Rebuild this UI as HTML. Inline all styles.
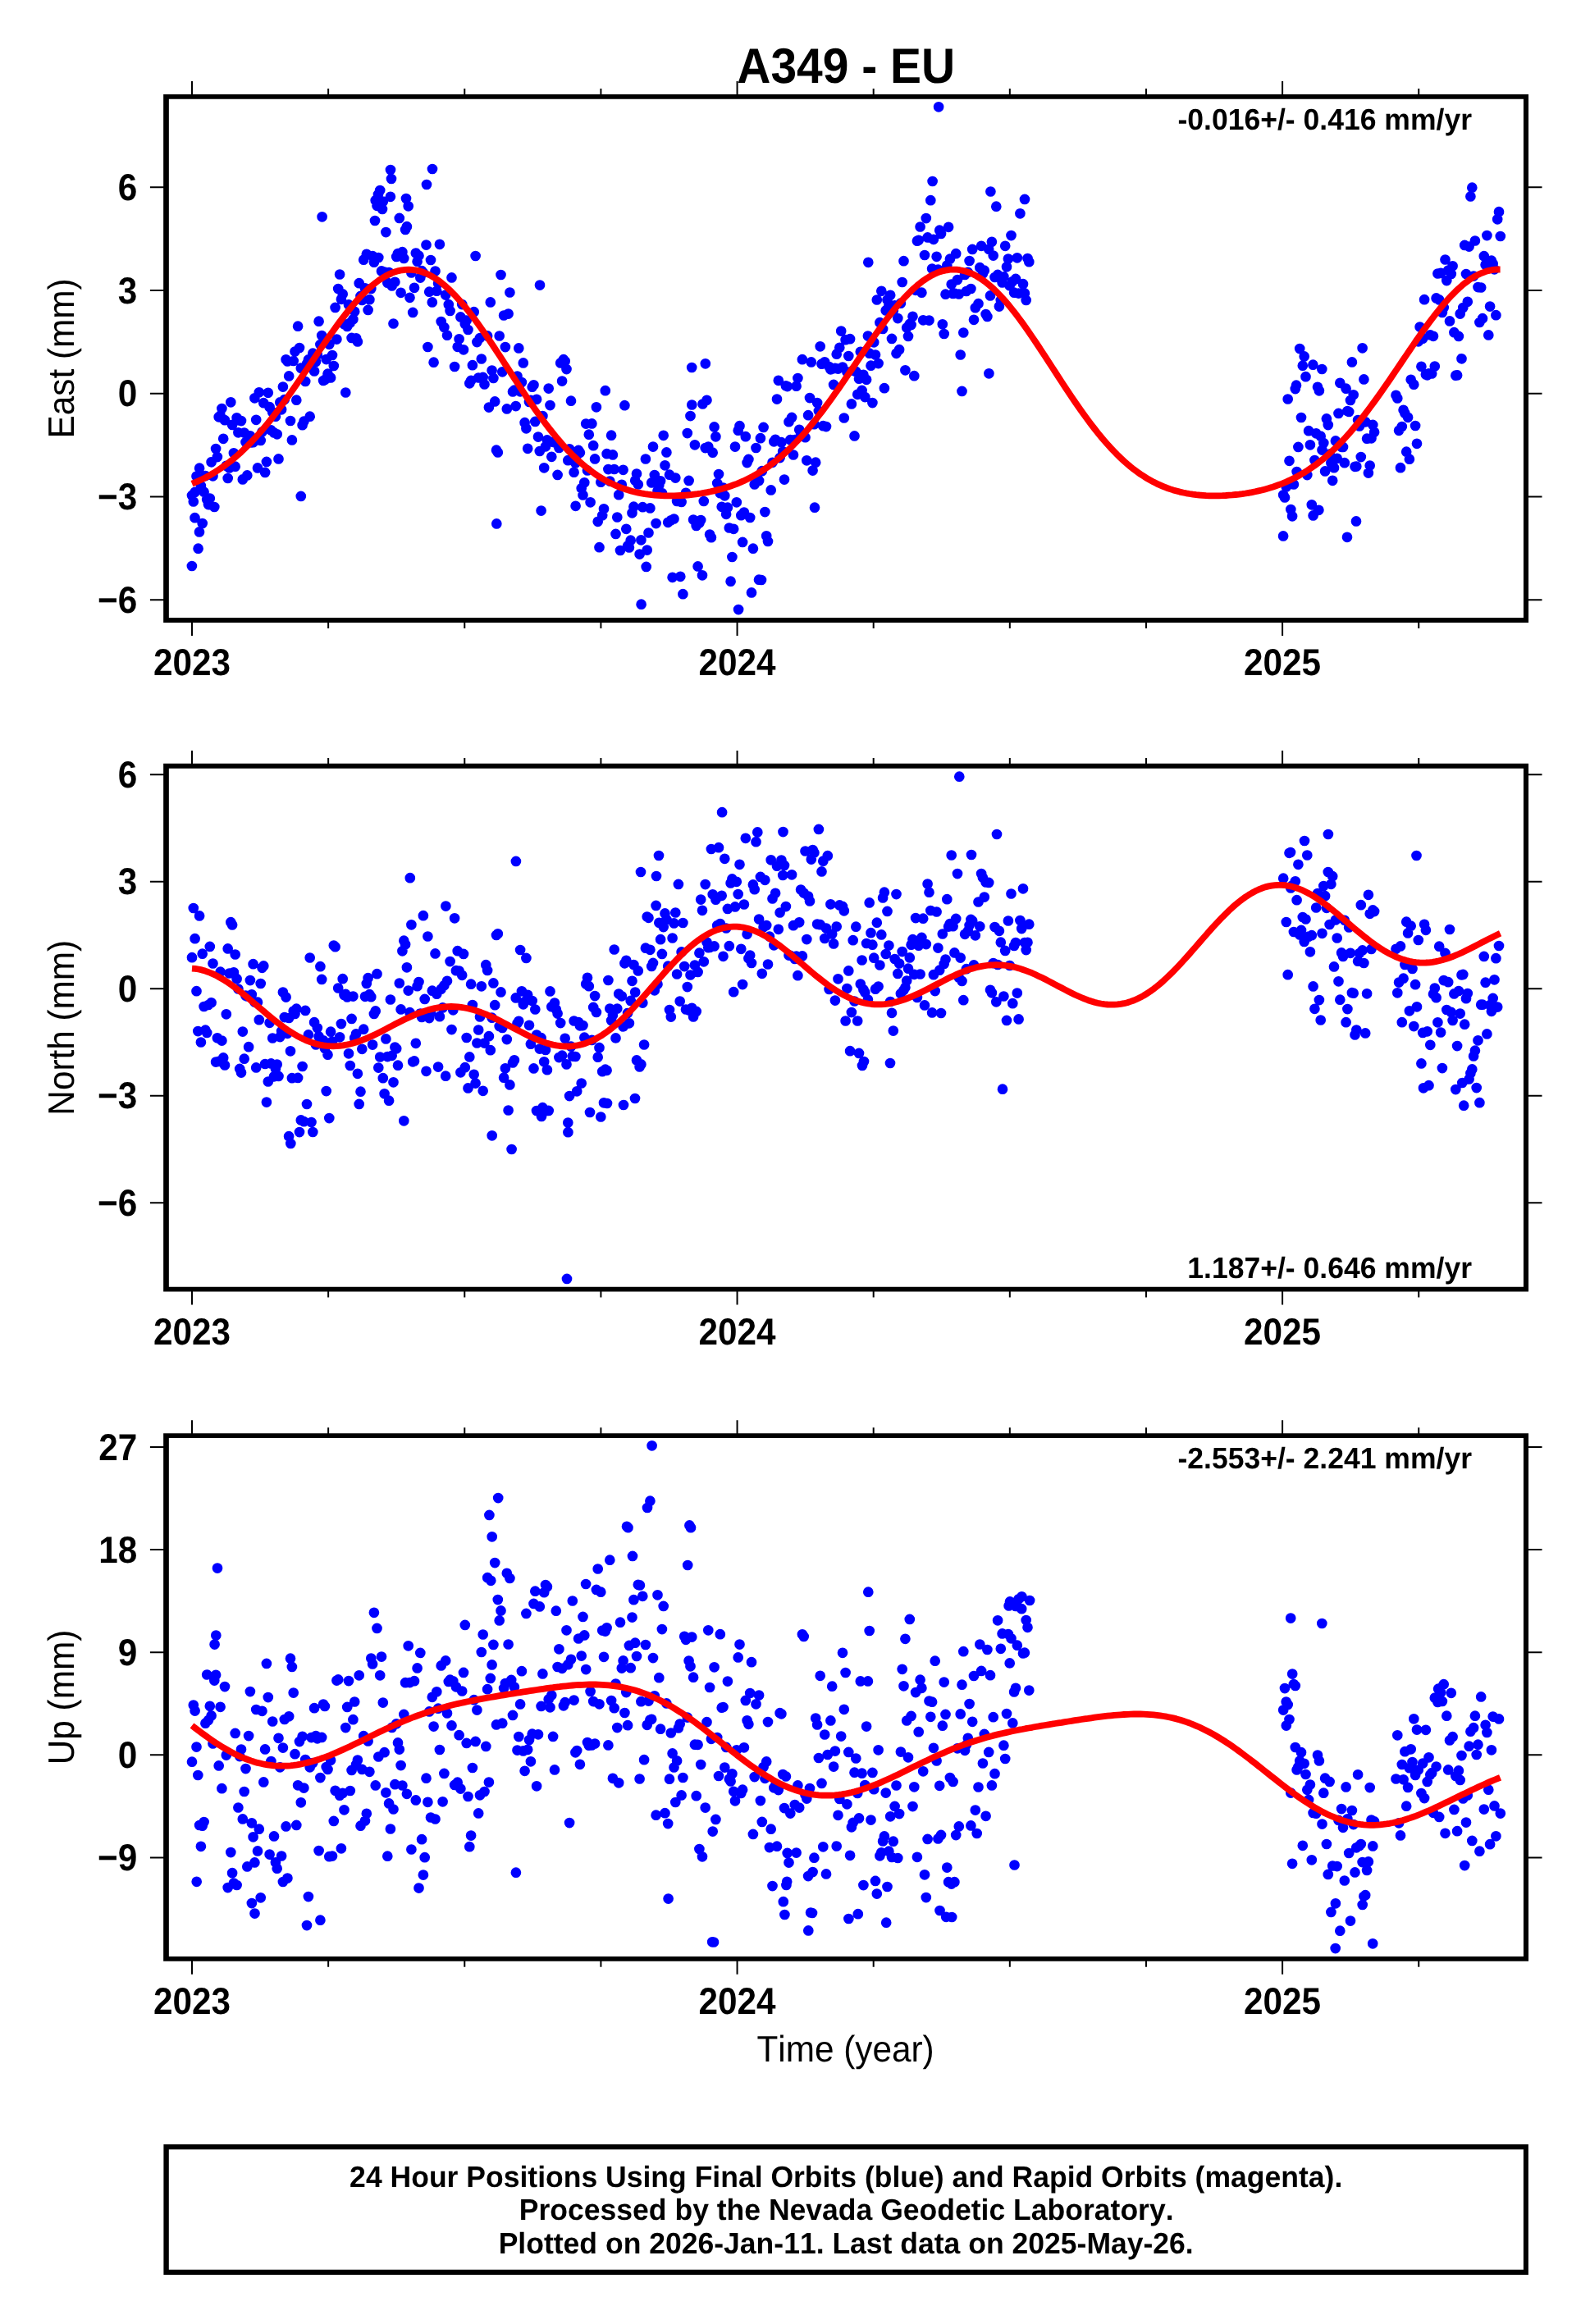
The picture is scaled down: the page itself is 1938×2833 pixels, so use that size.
<!DOCTYPE html>
<html><head><meta charset="utf-8"><title>A349 - EU</title>
<style>
html,body{margin:0;padding:0;background:#fff;}
body{width:1938px;height:2833px;overflow:hidden;}
svg{display:block;}
text{font-family:"Liberation Sans",sans-serif;fill:#000;font-kerning:none;font-variant-ligatures:none;text-rendering:geometricPrecision;}
svg{will-change:transform;}
.b{font-weight:bold;}
.an{font-size:42.3px;font-weight:bold;}
.lb{font-size:42.3px;}
.rt{font-size:35.54px;font-weight:bold;}
.ft{font-size:35.54px;font-weight:bold;}
.d{fill:none;stroke:#0000ff;stroke-width:12.7;stroke-linecap:round;}
.c{fill:none;stroke:#ff0000;stroke-width:7.8;stroke-linejoin:round;stroke-linecap:butt;}
.f{fill:none;stroke:#000;stroke-width:6.0;}
.t{stroke:#000;stroke-width:2.0;fill:none;}
</style></head><body>
<svg width="1938" height="2833" viewBox="0 0 1938 2833">
<rect width="1938" height="2833" fill="#fff"/>
<text class="b" transform="translate(1031.2 101.3) scale(1.01 1.07)" text-anchor="middle" font-size="56.4" textLength="263.27">A349 - EU</text>
<g id="p1">
<path class="d" d="M234 603.9h0M235.8 611.5h0M237.6 599.9h0M239.5 580.5h0M241.3 582.9h0M243.1 570.7h0M244.9 592.3h0M246.7 638.1h0M248.6 599.7h0M250.4 580.1h0M252.2 609h0M254 615.1h0M255.8 607.6h0M257.6 563.3h0M259.5 580.3h0M261.3 618h0M263.1 547h0M264.9 557.1h0M266.7 508.3h0M268.6 506.5h0M270.4 498.1h0M272.2 534.8h0M274 512.2h0M275.8 567.8h0M277.7 583h0M279.5 570.4h0M281.3 490.3h0M283.1 517.9h0M284.9 552.3h0M286.7 568.7h0M288.6 509.3h0M290.4 527.3h0M292.2 512.6h0M294 513.1h0M295.8 584.4h0M297.7 527.5h0M299.5 539.1h0M301.3 579.4h0M304.9 531.3h0M306.8 539.5h0M308.6 539.2h0M310.4 485.3h0M312.2 511.8h0M314 570.4h0M315.8 478.3h0M317.7 537h0M319.5 526.5h0M321.3 491.2h0M323.1 575.9h0M324.9 562.9h0M326.8 478.8h0M328.6 496.2h0M330.4 524.4h0M332.2 502.4h0M334 527.4h0M335.9 507.7h0M337.7 529.3h0M339.5 559.4h0M341.3 490.4h0M343.1 499.3h0M344.9 471.6h0M346.8 487h0M348.6 438.3h0M350.4 440.5h0M352.2 458.4h0M354 513h0M355.9 536.4h0M357.7 440h0M359.5 428.6h0M361.3 487.7h0M363.1 397.7h0M365 424h0M366.8 448.7h0M368.6 518.2h0M370.4 513.7h0M372.2 465h0M374 443.5h0M375.9 438.4h0M377.7 507.7h0M379.5 447.9h0M381.3 430.7h0M383.1 452.4h0M385 441.1h0M386.8 432.4h0M388.6 391.7h0M390.4 420.1h0M392.2 409.1h0M394.1 464h0M395.9 462.9h0M397.7 438.1h0M399.5 455.7h0M401.3 419.8h0M403.1 460.4h0M405 433h0M406.8 446h0M408.6 374.9h0M410.4 413.6h0M412.2 352h0M414.1 334.5h0M415.9 364.8h0M417.7 358.4h0M419.5 395.2h0M421.3 478.5h0M423.2 398h0M425 371.4h0M426.8 393.6h0M428.6 411.9h0M430.4 389.2h0M432.2 379.8h0M434.1 412.3h0M435.9 416.4h0M437.7 345.2h0M439.5 360.9h0M441.3 365.9h0M443.2 316.7h0M445 351.4h0M446.8 309.8h0M448.6 377.9h0M450.4 365.2h0M452.3 351.9h0M454.1 312h0M455.9 319.7h0M457.7 244.2h0M459.5 250.8h0M461.3 314h0M463.2 232.1h0M465 330.4h0M466.8 245.7h0M468.6 331.5h0M470.4 283.1h0M472.3 344.7h0M474.1 332.1h0M475.9 239.8h0M477.7 348.5h0M479.5 394.5h0M481.4 343.8h0M483.2 312.9h0M485 309.1h0M486.8 265.9h0M488.6 356.8h0M490.4 307.2h0M492.3 315h0M494.1 279.9h0M495.9 276.2h0M497.7 251.3h0M499.5 362.8h0M501.4 332.4h0M503.2 380.9h0M505 350.8h0M506.8 308.5h0M508.6 318.7h0M510.5 311.7h0M512.3 338.6h0M514.1 330.2h0M515.9 332.5h0M519.5 298.6h0M521.4 423h0M523.2 355.7h0M525 317h0M526.8 368.4h0M528.6 441.7h0M530.5 330.5h0M532.3 354.7h0M534.1 345.4h0M535.9 297.8h0M537.7 392h0M541.4 399.1h0M543.2 359.6h0M545 408.7h0M546.8 371.2h0M548.6 379h0M550.5 338.4h0M554.1 447h0M557.7 422.8h0M559.6 413.3h0M561.4 386.4h0M563.2 371.1h0M565 426.3h0M566.8 394.9h0M568.7 390.5h0M570.5 402h0M572.3 467.3h0M574.1 463.9h0M575.9 445.2h0M577.7 380.2h0M579.6 312h0M581.4 417.1h0M583.2 460.5h0M585 412h0M586.8 437.5h0M588.7 459.9h0M590.5 468.5h0M594.1 409.4h0M595.9 496.6h0M597.8 368.4h0M599.6 451.5h0M601.4 460.9h0M603.2 489.4h0M605 548.7h0M606.8 551.5h0M608.7 409.5h0M610.5 335h0M612.3 453.3h0M614.1 384.5h0M615.9 423.1h0M617.8 498.4h0M619.6 382.6h0M621.4 356.5h0M625 477.4h0M626.9 475.7h0M628.7 495.1h0M630.5 458.6h0M632.3 424.4h0M634.1 477.3h0M635.9 466.1h0M637.8 442.4h0M639.6 515.2h0M641.4 522.3h0M643.2 546.8h0M645 490h0M646.9 487.8h0M648.7 471.7h0M650.5 469.3h0M652.3 513.9h0M654.1 486.8h0M656 532.6h0M657.8 550h0M659.6 622.6h0M661.4 507.1h0M663.2 570.3h0M665 544.3h0M666.9 536.4h0M668.7 473.6h0M670.5 494.1h0M672.3 556.8h0M674.1 538.8h0M676 539.3h0M679.6 578.9h0M681.4 546h0M683.2 442.4h0M685.1 464.6h0M686.9 438.2h0M688.7 440.3h0M690.5 450.1h0M692.3 561.2h0M694.1 547.3h0M696 488.7h0M699.6 575.7h0M701.4 564.6h0M703.2 554.9h0M705.1 548.9h0M706.9 551.8h0M708.7 595.2h0M710.5 603.5h0M712.3 588.3h0M714.2 516.6h0M716 573.5h0M717.8 529.7h0M719.6 612.3h0M721.4 516.4h0M723.2 543.2h0M725.1 559.4h0M726.9 496.3h0M728.7 635.8h0M730.5 667.2h0M732.3 587.7h0M734.2 628.3h0M736 620.3h0M737.8 476.2h0M739.6 553.2h0M741.4 572.1h0M743.3 586.6h0M745.1 530.7h0M746.9 554.4h0M748.7 572h0M750.5 650.9h0M752.3 630.5h0M754.2 603.2h0M756 671h0M757.8 590.8h0M759.6 572.8h0M761.4 494.2h0M763.3 644.8h0M765.1 665.6h0M766.9 667.4h0M768.7 658.7h0M770.5 625.3h0M772.4 617.7h0M774.2 585.8h0M776 577.6h0M777.8 590.5h0M779.6 675.6h0M781.4 658.3h0M783.3 618.2h0M786.9 559.5h0M788.7 670.6h0M790.5 649.5h0M792.4 619.4h0M794.2 588.4h0M796 544.6h0M797.8 579.1h0M799.6 638.1h0M801.5 598.4h0M803.3 591.4h0M805.1 586.3h0M806.9 601h0M808.7 530.8h0M810.5 567.3h0M812.4 551.4h0M814.2 636.8h0M816 578.7h0M817.8 634.3h0M819.6 703.8h0M821.5 632.5h0M823.3 582.6h0M825.1 610.9h0M826.9 607.9h0M830.6 611.9h0M832.4 724.2h0M836 600.8h0M837.8 528.1h0M839.6 585.9h0M841.5 507.1h0M843.3 493.5h0M845.1 633.6h0M846.9 542.3h0M848.7 640.9h0M850.6 690.4h0M852.4 637.6h0M854.2 634.1h0M856 701.3h0M857.8 611h0M859.7 546.1h0M861.5 487.8h0M863.3 544.6h0M865.1 651.5h0M866.9 655.2h0M868.7 551.7h0M870.6 520.4h0M872.4 532.3h0M874.2 589h0M876 578.1h0M877.8 601.2h0M879.7 617.8h0M881.5 594.5h0M883.3 604.3h0M885.1 626.8h0M886.9 618.7h0M888.8 643.5h0M890.6 708.7h0M892.4 679h0M894.2 644.8h0M896 544.6h0M897.8 612.3h0M899.7 524.7h0M901.5 519.2h0M903.3 628.2h0M905.1 660.9h0M906.9 624.5h0M908.8 532.2h0M910.6 564.1h0M912.4 559.9h0M914.2 631h0M916 722.4h0M917.9 668.7h0M919.7 590.5h0M921.5 546h0M923.3 583.3h0M925.1 586h0M926.9 534.2h0M928.8 574.2h0M930.6 520.9h0M932.4 624.1h0M934.2 653.3h0M936 659.9h0M939.7 597.4h0M941.5 563.8h0M943.3 538.3h0M945.1 535.8h0M947 486.6h0M948.8 463.8h0M950.6 558.1h0M952.4 539.2h0M954.2 550.3h0M956 584.6h0M957.9 470.3h0M959.7 471.1h0M961.5 514.2h0M963.3 536.2h0M965.1 508.9h0M967 554.5h0M968.8 536h0M970.6 470.7h0M972.4 461h0M974.2 523.8h0M976.1 529.2h0M977.9 438.2h0M979.7 531.3h0M981.5 533.2h0M983.3 561.3h0M985.1 506.2h0M987 485.1h0M988.8 441.4h0M990.6 573.6h0M992.4 517.2h0M994.2 563.7h0M996.1 491h0M997.9 501h0M999.7 422.3h0M1001.5 443.7h0M1003.3 519.2h0M1005.2 441.3h0M1007 520.1h0M1010.6 447h0M1012.4 450.3h0M1014.2 449.7h0M1016.1 468.9h0M1017.9 448.8h0M1019.7 431.7h0M1021.5 449.6h0M1023.3 423.8h0M1025.2 403.6h0M1027 447.6h0M1028.8 509.5h0M1030.6 414.2h0M1032.4 453.3h0M1034.3 434h0M1036.1 413.2h0M1037.9 492.4h0M1039.7 451.7h0M1041.5 531.4h0M1043.3 452.9h0M1045.2 480.8h0M1047 461.7h0M1048.8 428.8h0M1050.6 475.9h0M1052.4 456.8h0M1054.3 484.1h0M1056.1 462.8h0M1057.9 409.6h0M1059.7 430.7h0M1061.5 445.7h0M1063.4 491.1h0M1065.2 417.3h0M1067 432.6h0M1068.8 365.5h0M1070.6 443.1h0M1072.4 393.2h0M1074.3 354.8h0M1076.1 401h0M1077.9 473.2h0M1079.7 378.4h0M1081.5 365.5h0M1083.4 373.1h0M1085.2 359.8h0M1087 412.9h0M1088.8 378.9h0M1090.6 372.3h0M1092.5 430.8h0M1094.3 388.1h0M1096.1 426.2h0M1097.9 369.7h0M1099.7 344h0M1101.5 318.2h0M1103.4 451.3h0M1105.2 399.5h0M1107 409.9h0M1108.8 394.9h0M1110.6 396.1h0M1112.5 385.8h0M1114.3 458.2h0M1116.1 353.8h0M1117.9 293.7h0M1119.7 292.8h0M1121.6 276.5h0M1123.4 356.7h0M1125.2 390.3h0M1127 311h0M1128.8 266.1h0M1130.6 289.4h0M1132.5 390.6h0M1134.3 244.2h0M1136.1 327.5h0M1137.9 291.8h0M1141.6 312.8h0M1143.4 328.7h0M1145.2 280.7h0M1147 284.9h0M1148.8 395.3h0M1150.7 407h0M1152.5 358.7h0M1154.3 323.6h0M1156.1 276.8h0M1157.9 315.7h0M1159.7 346.6h0M1161.6 357.9h0M1163.4 357.6h0M1165.2 309.2h0M1167 341.1h0M1168.8 358.5h0M1170.7 432.5h0M1172.5 476.9h0M1174.3 405.5h0M1176.1 334.9h0M1177.9 355h0M1179.8 331.9h0M1181.6 318h0M1183.4 352h0M1185.2 303.9h0M1187 389.8h0M1188.8 375.2h0M1192.5 370.2h0M1194.3 326.2h0M1196.1 299.8h0M1197.9 333.5h0M1199.8 329.7h0M1201.6 383h0M1203.4 385.9h0M1205.2 303.8h0M1207 360.4h0M1208.9 294.8h0M1210.7 311.6h0M1212.5 338h0M1214.3 251.7h0M1216.1 334.9h0M1217.9 373.6h0M1219.8 365.9h0M1221.6 344.5h0M1223.4 337.3h0M1225.2 299.8h0M1227 325.3h0M1228.9 315.5h0M1230.7 348.2h0M1232.5 287.1h0M1234.3 343h0M1236.1 356.7h0M1238 339.9h0M1239.8 314.3h0M1241.6 357.6h0M1243.4 260.3h0M1247 346.2h0M1248.9 357.4h0M1250.7 365.9h0M1252.5 315.1h0M1254.3 319.2h0M1564.2 603.3h0M1566 606.4h0M1567.8 593.5h0M1569.7 486.5h0M1571.5 561.8h0M1573.3 621h0M1575.1 629.3h0M1576.9 590.4h0M1578.8 474.1h0M1580.6 575h0M1582.4 544.9h0M1584.2 425.1h0M1586 509h0M1587.8 445.7h0M1589.7 434.4h0M1591.5 459.2h0M1593.3 579.1h0M1595.1 525.2h0M1596.9 542.3h0M1598.8 615.3h0M1600.6 628.4h0M1602.4 561h0M1604.2 528.3h0M1606 471.8h0M1607.9 476.3h0M1609.7 531.7h0M1611.5 548.6h0M1613.3 540.1h0M1615.1 574.4h0M1616.9 510.4h0M1618.8 518.1h0M1620.6 553.6h0M1622.4 564.3h0M1624.2 585.8h0M1626 570.2h0M1627.9 537.4h0M1629.7 558.8h0M1631.5 503.9h0M1633.3 466.8h0M1635.1 544.8h0M1637 544.9h0M1638.8 564.2h0M1640.6 473.7h0M1642.4 501h0M1644.2 501.9h0M1646 488h0M1647.9 441.4h0M1649.7 481.3h0M1651.5 568.8h0M1653.3 568.6h0M1655.1 512h0M1657 519.4h0M1658.8 557.1h0M1660.6 424.3h0M1662.4 462.4h0M1664.2 514.3h0M1666.1 534.7h0M1667.9 576.6h0M1669.7 567.6h0M1671.5 534.3h0M1673.3 517.9h0M1675.1 526.8h0M1701.5 481.8h0M1703.3 485.4h0M1705.1 524.8h0M1707 570.2h0M1708.8 520.1h0M1710.6 499.8h0M1712.4 503.8h0M1714.2 550.7h0M1716.1 508.8h0M1717.9 559.7h0M1719.7 462.8h0M1723.3 468.7h0M1725.1 519h0M1727 540.8h0M1728.8 416.3h0M1730.6 398.5h0M1732.4 446.8h0M1734.2 412.7h0M1736.1 365.2h0M1737.9 456.6h0M1739.7 457.3h0M1741.5 455.4h0M1743.3 408.3h0M1745.2 455.4h0M1747 409.8h0M1748.8 446.5h0M1750.6 363.4h0M1752.4 333.5h0M1754.2 365.4h0M1756.1 332.9h0M1757.9 381h0M1759.7 374.9h0M1761.5 316.5h0M1763.3 342.1h0M1765.2 329.6h0M1767 391.4h0M1768.8 333.9h0M1770.6 324.3h0M1772.4 405.2h0M1774.3 457.7h0M1776.1 457.4h0M1777.9 409.9h0M1779.7 382.6h0M1781.5 437.3h0M1783.3 375.1h0M1785.2 298.9h0M1787 334.1h0M1788.8 367.8h0M1790.6 300.6h0M1792.4 239.4h0M1794.3 228.7h0M1796.1 336.6h0M1797.9 293.5h0M1801.5 350.1h0M1803.4 392.9h0M1805.2 350.5h0M1807 388.2h0M1808.8 312.2h0M1810.6 322.7h0M1812.4 287.1h0M1814.3 408.4h0M1816.1 373.6h0M1817.9 317.7h0M1819.7 321.4h0M1821.5 328.3h0M1823.4 384.2h0M1825.2 267.3h0M1827 258.2h0M1828.8 288h0M1144.1 130.3h0M392.6 264.3h0M366.8 604.9h0M233.9 690h0M241.6 668.7h0M243 648.4h0M237.5 631.2h0M605.3 638.4h0M781.6 736.7h0M900.1 743.1h0M925 706.7h0M928 707h0M829.3 702.8h0M787.7 690.9h0M658 347.6h0M843.2 448h0M859.8 443.3h0M856.5 492.5h0M993 618.7h0M701.6 616.8h0M1136.6 221h0M1207.4 233.5h0M1249 242.9h0M1058.3 319.8h0M1205.4 455.3h0M1564.1 653.4h0M1642 654.8h0M1653 635.4h0M1607.4 621.8h0M1580 469.7h0M1600.4 444.7h0M1611.3 450h0M476 207h0M477 218h0M527 206h0M520 225h0M461 237h0M495 242h0M466 255h0M457 269h0"/>
<polyline class="c" points="234,589.7 238,588 242,586.3 246,584.4 250,582.4 254,580.3 258,578 262,575.6 266,573 270,570.3 274,567.5 278,564.5 282,561.4 286,558.1 290,554.6 294,551 298,547.2 302,543.3 306,539.2 310,534.9 314,530.5 318,526 322,521.3 326,516.5 330,511.5 334,506.4 338,501.2 342,495.8 346,490.4 350,484.8 354,479.2 358,473.5 362,467.7 366,461.9 370,456 374,450.1 378,444.2 382,438.3 386,432.3 390,426.4 394,420.6 398,414.8 402,409.1 406,403.4 410,397.9 414,392.4 418,387.1 422,382 426,377 430,372.2 434,367.6 438,363.1 442,358.9 446,354.9 450,351.2 454,347.7 458,344.5 462,341.5 466,338.9 470,336.5 474,334.4 478,332.7 482,331.2 486,330.1 490,329.3 494,328.8 498,328.6 502,328.8 506,329.3 510,330.1 514,331.3 518,332.7 522,334.5 526,336.6 530,339 534,341.7 538,344.7 542,348 546,351.6 550,355.4 554,359.4 558,363.8 562,368.3 566,373 570,378 574,383.1 578,388.4 582,393.9 586,399.5 590,405.2 594,411.1 598,417 602,423 606,429.1 610,435.2 614,441.4 618,447.5 622,453.7 626,459.8 630,466 634,472.1 638,478.1 642,484.1 646,490 650,495.7 654,501.4 658,507 662,512.5 666,517.8 670,523 674,528 678,532.9 682,537.6 686,542.2 690,546.6 694,550.8 698,554.9 702,558.7 706,562.4 710,565.9 714,569.3 718,572.4 722,575.4 726,578.2 730,580.9 734,583.3 738,585.6 742,587.8 746,589.8 750,591.6 754,593.3 758,594.8 762,596.2 766,597.5 770,598.7 774,599.7 778,600.6 782,601.4 786,602.1 790,602.7 794,603.2 798,603.6 802,603.9 806,604.2 810,604.3 814,604.4 818,604.4 822,604.4 826,604.2 830,604 834,603.8 838,603.5 842,603.1 846,602.6 850,602.1 854,601.5 858,600.8 862,600.1 866,599.3 870,598.4 874,597.4 878,596.4 882,595.3 886,594 890,592.7 894,591.3 898,589.8 902,588.1 906,586.4 910,584.5 914,582.5 918,580.4 922,578.1 926,575.7 930,573.2 934,570.5 938,567.7 942,564.7 946,561.5 950,558.3 954,554.8 958,551.2 962,547.4 966,543.5 970,539.4 974,535.2 978,530.8 982,526.3 986,521.6 990,516.8 994,511.8 998,506.7 1002,501.5 1006,496.2 1010,490.7 1014,485.2 1018,479.6 1022,473.9 1026,468.1 1030,462.3 1034,456.4 1038,450.5 1042,444.6 1046,438.6 1050,432.7 1054,426.8 1058,421 1062,415.2 1066,409.4 1070,403.8 1074,398.2 1078,392.8 1082,387.5 1086,382.3 1090,377.3 1094,372.5 1098,367.8 1102,363.4 1106,359.2 1110,355.2 1114,351.4 1118,347.9 1122,344.7 1126,341.7 1130,339 1134,336.6 1138,334.5 1142,332.7 1146,331.2 1150,330.1 1154,329.3 1158,328.7 1162,328.6 1166,328.7 1170,329.2 1174,330 1178,331.1 1182,332.5 1186,334.3 1190,336.4 1194,338.8 1198,341.5 1202,344.4 1206,347.7 1210,351.2 1214,355 1218,359.1 1222,363.4 1226,367.9 1230,372.6 1234,377.6 1238,382.7 1242,388 1246,393.4 1250,399 1254,404.7 1258,410.6 1262,416.5 1266,422.5 1270,428.6 1274,434.7 1278,440.8 1282,447 1286,453.2 1290,459.3 1294,465.5 1298,471.6 1302,477.6 1306,483.6 1310,489.5 1314,495.3 1318,501 1322,506.5 1326,512 1330,517.3 1334,522.5 1338,527.6 1342,532.5 1346,537.2 1350,541.8 1354,546.2 1358,550.4 1362,554.5 1366,558.4 1370,562.1 1374,565.6 1378,569 1382,572.2 1386,575.1 1390,578 1394,580.6 1398,583.1 1402,585.4 1406,587.6 1410,589.6 1414,591.4 1418,593.1 1422,594.7 1426,596.1 1430,597.4 1434,598.5 1438,599.6 1442,600.5 1446,601.3 1450,602 1454,602.6 1458,603.1 1462,603.5 1466,603.8 1470,604.1 1474,604.3 1478,604.3 1482,604.4 1486,604.3 1490,604.2 1494,604 1498,603.7 1502,603.4 1506,603 1510,602.6 1514,602.1 1518,601.5 1522,600.8 1526,600.1 1530,599.3 1534,598.4 1538,597.5 1542,596.4 1546,595.3 1550,594.1 1554,592.7 1558,591.3 1562,589.8 1566,588.2 1570,586.4 1574,584.6 1578,582.6 1582,580.5 1586,578.2 1590,575.8 1594,573.3 1598,570.6 1602,567.8 1606,564.8 1610,561.7 1614,558.4 1618,555 1622,551.4 1626,547.7 1630,543.8 1634,539.7 1638,535.5 1642,531.1 1646,526.6 1650,521.9 1654,517.1 1658,512.1 1662,507.1 1666,501.8 1670,496.5 1674,491.1 1678,485.6 1682,479.9 1686,474.2 1690,468.5 1694,462.7 1698,456.8 1702,450.9 1706,445 1710,439 1714,433.1 1718,427.2 1722,421.4 1726,415.5 1730,409.8 1734,404.1 1738,398.6 1742,393.1 1746,387.8 1750,382.6 1754,377.6 1758,372.8 1762,368.1 1766,363.7 1770,359.4 1774,355.4 1778,351.6 1782,348.1 1786,344.8 1790,341.8 1794,339.1 1798,336.7 1802,334.6 1806,332.8 1810,331.3 1814,330.1 1818,329.2 1822,328.7 1826,328.5 1828.6,328.5"/>
<path class="t" d="M234 117.9v-18.9M234 756v18.9M400.14 117.9v-9.9M400.14 756v9.9M566.27 117.9v-9.9M566.27 756v9.9M732.41 117.9v-9.9M732.41 756v9.9M898.55 117.9v-18.9M898.55 756v18.9M1064.69 117.9v-9.9M1064.69 756v9.9M1230.82 117.9v-9.9M1230.82 756v9.9M1396.96 117.9v-9.9M1396.96 756v9.9M1563.1 117.9v-18.9M1563.1 756v18.9M1729.24 117.9v-9.9M1729.24 756v9.9M202.4 228.17h-19.5M1860 228.17h19.5M202.4 353.96h-19.5M1860 353.96h19.5M202.4 479.75h-19.5M1860 479.75h19.5M202.4 605.54h-19.5M1860 605.54h19.5M202.4 731.33h-19.5M1860 731.33h19.5"/>
<path fill="#000" fill-rule="evenodd" d="M199.15 114.95H1863.05V758.9H199.15ZM205.85 120.85H1856.95V753.1H205.85Z"/>
<text class="an" transform="translate(167.2 243.87) scale(1 1.08)" text-anchor="end" textLength="23.53">6</text>
<text class="an" transform="translate(167.2 369.66) scale(1 1.08)" text-anchor="end" textLength="23.53">3</text>
<text class="an" transform="translate(167.2 495.45) scale(1 1.08)" text-anchor="end" textLength="23.53">0</text>
<text class="an" transform="translate(167.2 621.24) scale(1 1.08)" text-anchor="end" textLength="48.23">−3</text>
<text class="an" transform="translate(167.2 747.03) scale(1 1.08)" text-anchor="end" textLength="48.23">−6</text>
<text class="an" transform="translate(234 822.9) scale(1 1.08)" text-anchor="middle" textLength="94.11">2023</text>
<text class="an" transform="translate(898.55 822.9) scale(1 1.08)" text-anchor="middle" textLength="94.11">2024</text>
<text class="an" transform="translate(1563.1 822.9) scale(1 1.08)" text-anchor="middle" textLength="94.11">2025</text>
<text class="lb" transform="translate(89.8 436.95) rotate(-90) scale(1 1.06)" text-anchor="middle" textLength="195.03">East (mm)</text>
<text class="rt" transform="translate(1794 157.7) scale(1 1.02)" text-anchor="end" textLength="358.52">-0.016+/- 0.416 mm/yr</text>
</g>
<g id="p2">
<path class="d" d="M234 1167.2h0M235.8 1107h0M237.6 1144.2h0M239.5 1208.2h0M241.3 1257.1h0M243.1 1116.4h0M244.9 1270.5h0M246.7 1162.7h0M248.6 1227h0M250.4 1255.7h0M252.2 1259h0M254 1225h0M255.8 1153.9h0M257.6 1222.3h0M259.5 1174.5h0M263.1 1294.6h0M264.9 1265.3h0M266.7 1293.9h0M268.6 1184.7h0M270.4 1268.6h0M272.2 1289.4h0M274 1298.5h0M275.8 1236.3h0M277.7 1156.4h0M279.5 1186.5h0M281.3 1124.2h0M283.1 1127.4h0M284.9 1185.3h0M286.7 1163.5h0M288.6 1193.2h0M290.4 1205.5h0M292.2 1302.9h0M294 1307.6h0M295.8 1257.6h0M297.7 1290.7h0M299.5 1213.7h0M301.3 1214.4h0M303.1 1276.2h0M304.9 1195.1h0M306.8 1212.3h0M308.6 1175.2h0M310.4 1221.6h0M312.2 1301.4h0M314 1221.7h0M315.8 1243.2h0M317.7 1199h0M319.5 1179.8h0M321.3 1177.4h0M323.1 1297h0M324.9 1343.6h0M326.8 1318.5h0M328.6 1246.8h0M330.4 1296.4h0M332.2 1265.5h0M334 1312.3h0M335.9 1303h0M337.7 1297.5h0M339.5 1311.9h0M341.3 1264.1h0M343.1 1257.1h0M344.9 1209.6h0M346.8 1240.1h0M348.6 1215.6h0M350.4 1259.8h0M352.2 1241h0M354 1281.3h0M355.9 1314.2h0M357.7 1232.6h0M359.5 1235.9h0M361.3 1229.7h0M363.1 1313.9h0M365 1380.1h0M366.8 1365.4h0M368.6 1300h0M370.4 1367.2h0M372.2 1231.9h0M374 1346h0M375.9 1261.4h0M377.7 1167.5h0M379.5 1368h0M381.3 1380h0M383.1 1246.2h0M385 1273.5h0M386.8 1253h0M388.6 1263.4h0M390.4 1178.2h0M392.2 1193.9h0M394.1 1268.3h0M395.9 1277.9h0M397.7 1330.1h0M399.5 1285.7h0M401.3 1363.1h0M403.1 1257.7h0M405 1269.6h0M406.8 1152.6h0M408.6 1154.2h0M412.2 1204.5h0M414.1 1264.3h0M415.9 1248.1h0M417.7 1193.2h0M419.5 1212.9h0M421.3 1211.9h0M423.2 1215.5h0M425 1284.3h0M426.8 1299h0M428.6 1241.9h0M430.4 1214.6h0M432.2 1265.3h0M434.1 1260.3h0M435.9 1308.8h0M437.7 1345.9h0M439.5 1330.7h0M441.3 1278.8h0M443.2 1254.7h0M445 1214.8h0M446.8 1199h0M448.6 1192.2h0M450.4 1212.2h0M452.3 1215.2h0M454.1 1273.6h0M455.9 1236h0M457.7 1232.4h0M459.5 1187.2h0M461.3 1301.6h0M463.2 1288.5h0M466.8 1314.2h0M468.6 1333.3h0M470.4 1266.4h0M472.3 1288.1h0M474.1 1341.7h0M475.9 1218.5h0M477.7 1286.8h0M479.5 1319.3h0M481.4 1276.5h0M483.2 1278.3h0M485 1298.7h0M486.8 1198.5h0M488.6 1230.4h0M490.4 1159.3h0M492.3 1146.7h0M494.1 1151.2h0M495.9 1179.3h0M497.7 1207.6h0M499.5 1234.2h0M501.4 1127.3h0M503.2 1294.3h0M505 1293.4h0M506.8 1271.8h0M508.6 1202.2h0M510.5 1197h0M512.3 1235.5h0M514.1 1240h0M515.9 1116.2h0M517.7 1217.9h0M519.5 1305.8h0M521.4 1141.5h0M523.2 1241.1h0M525 1234.6h0M526.8 1207.7h0M530.5 1162.4h0M532.3 1211.7h0M534.1 1300.6h0M535.9 1239.2h0M537.7 1205.7h0M539.6 1228.4h0M541.4 1201.2h0M543.2 1311.7h0M545 1195.8h0M548.6 1172.1h0M550.5 1255.1h0M552.3 1231.3h0M554.1 1119.3h0M555.9 1183.2h0M557.7 1159.2h0M559.6 1183.6h0M561.4 1307.3h0M563.2 1188.8h0M565 1162.9h0M566.8 1301.2h0M568.7 1265h0M570.5 1326.4h0M572.3 1288.4h0M574.1 1199.7h0M575.9 1225h0M577.7 1309.8h0M579.6 1320.6h0M581.4 1271.5h0M583.2 1255.5h0M585 1239.5h0M586.8 1202.3h0M588.7 1329.8h0M590.5 1271.6h0M592.3 1176.2h0M594.1 1182.9h0M595.9 1263.2h0M597.8 1280.2h0M599.6 1240.7h0M601.4 1198.4h0M603.2 1225.2h0M605 1139.9h0M606.8 1138.3h0M608.7 1251.1h0M610.5 1209.4h0M612.3 1253h0M614.1 1313.7h0M615.9 1302.3h0M617.8 1267.1h0M619.6 1353.5h0M621.4 1322.4h0M625 1295.4h0M626.9 1292.3h0M628.7 1216.4h0M630.5 1247.5h0M632.3 1244.8h0M634.1 1158h0M635.9 1208.3h0M637.8 1224.3h0M639.6 1221.1h0M641.4 1167.9h0M643.2 1212.8h0M645 1249.8h0M646.9 1272.7h0M648.7 1220.1h0M650.5 1302.4h0M652.3 1230.5h0M654.1 1261.6h0M657.8 1278.6h0M659.6 1265.2h0M661.4 1350.2h0M663.2 1294.3h0M665 1280h0M666.9 1304.2h0M668.7 1353.9h0M670.5 1208.4h0M672.3 1227.2h0M674.1 1226.4h0M676 1222.6h0M677.8 1230.5h0M679.6 1235.6h0M681.4 1289.1h0M683.2 1247.1h0M685.1 1286.7h0M688.7 1265.8h0M690.5 1297.4h0M692.3 1368.6h0M694.1 1336.1h0M696 1275.7h0M697.8 1287.6h0M699.6 1244.5h0M701.4 1288h0M703.2 1330.3h0M705.1 1246.1h0M706.9 1250.3h0M708.7 1320.5h0M710.5 1250.1h0M712.3 1264.7h0M714.2 1199.6h0M716 1191.8h0M717.8 1202.2h0M721.4 1267.9h0M723.2 1227.9h0M725.1 1214.1h0M726.9 1234h0M728.7 1288.7h0M730.5 1277.2h0M732.3 1361.5h0M734.2 1306.2h0M736 1344.3h0M737.8 1303.7h0M739.6 1304.8h0M741.4 1195h0M743.3 1229.6h0M745.1 1244h0M746.9 1237.5h0M748.7 1157.5h0M750.5 1265.4h0M752.3 1229.6h0M754.2 1211.6h0M757.8 1214.3h0M759.6 1251.5h0M761.4 1174.3h0M763.3 1170.8h0M765.1 1235h0M766.9 1247.3h0M768.7 1219.9h0M770.5 1195.8h0M772.4 1176.1h0M774.2 1209.6h0M776 1292.4h0M777.8 1183.4h0M779.6 1300.4h0M781.4 1297.4h0M783.3 1222.6h0M785.1 1273.5h0M786.9 1155.7h0M788.7 1117.5h0M790.5 1118.8h0M792.4 1157.8h0M794.2 1177.9h0M796 1173.9h0M797.8 1207.3h0M799.6 1103.9h0M801.5 1199.7h0M803.3 1124.8h0M805.1 1145.2h0M806.9 1162.9h0M808.7 1130.1h0M810.5 1113.4h0M812.4 1121h0M814.2 1177.7h0M816 1231.1h0M817.8 1239.6h0M819.6 1143.5h0M821.5 1125.4h0M823.3 1112.5h0M825.1 1187.5h0M826.9 1077.9h0M828.7 1220.6h0M830.6 1160.4h0M832.4 1125h0M834.2 1178.1h0M836 1230.5h0M837.8 1203.1h0M839.6 1231.5h0M841.5 1188.5h0M843.3 1228.8h0M845.1 1239.5h0M846.9 1176.6h0M848.7 1232.9h0M850.6 1184.9h0M852.4 1161.7h0M854.2 1096.6h0M856 1109.8h0M857.8 1172.3h0M859.7 1078.1h0M861.5 1148.6h0M863.3 1155.2h0M865.1 1154.9h0M866.9 1035h0M868.7 1090.3h0M870.6 1153.4h0M872.4 1096.7h0M874.2 1128.2h0M876 1033.2h0M877.8 1126h0M879.7 1091.8h0M881.5 1165.8h0M883.3 1046.8h0M885.1 1131.5h0M886.9 1107.9h0M888.8 1153.2h0M890.6 1076.5h0M892.4 1071.4h0M894.2 1209.2h0M896 1105.4h0M897.8 1074.8h0M899.7 1090.1h0M901.5 1053.8h0M903.3 1156.8h0M905.1 1200.1h0M906.9 1102.5h0M908.8 1021.8h0M910.6 1138.8h0M912.4 1168.2h0M914.2 1164.6h0M916 1174h0M917.9 1078.4h0M919.7 1084.2h0M921.5 1026.2h0M923.3 1014.4h0M925.1 1120.6h0M926.9 1068.9h0M928.8 1186.8h0M930.6 1130.2h0M932.4 1072.8h0M934.2 1128.1h0M936 1175.5h0M937.9 1141.6h0M939.7 1048.3h0M941.5 1095.5h0M943.3 1152.3h0M945.1 1088.8h0M947 1055.7h0M948.8 1132.8h0M950.6 1112.5h0M952.4 1048.6h0M954.2 1067h0M956 1054.9h0M957.9 1105.1h0M961.5 1164.6h0M963.3 1164.8h0M965.1 1066.3h0M967 1128.2h0M968.8 1169h0M970.6 1165.6h0M972.4 1189.2h0M974.2 1124.3h0M976.1 1084.6h0M977.9 1165.4h0M979.7 1088.6h0M981.5 1037.5h0M983.3 1145.1h0M985.1 1092.6h0M987 1098.4h0M988.8 1047.6h0M990.6 1036h0M992.4 1039.4h0M996.1 1126.6h0M997.9 1010.9h0M999.7 1127.2h0M1001.5 1062.4h0M1003.3 1049.7h0M1005.2 1144h0M1007 1131.6h0M1008.8 1043.2h0M1010.6 1205.9h0M1012.4 1102.3h0M1014.2 1138.6h0M1016.1 1150.4h0M1017.9 1219.6h0M1019.7 1129.5h0M1021.5 1193.3h0M1023.3 1103.4h0M1027 1104.9h0M1028.8 1110.3h0M1030.6 1244.5h0M1032.4 1205h0M1034.3 1183.4h0M1036.1 1281.2h0M1037.9 1234.1h0M1039.7 1146.2h0M1041.5 1220.5h0M1043.3 1129.7h0M1045.2 1244.5h0M1047 1283.9h0M1048.8 1199.6h0M1050.6 1170.5h0M1052.4 1206.3h0M1054.3 1209.8h0M1056.1 1150h0M1057.9 1218.6h0M1059.7 1100.4h0M1061.5 1137.2h0M1063.4 1151.7h0M1065.2 1167.7h0M1067 1205.7h0M1068.8 1124.7h0M1070.6 1202.6h0M1072.4 1176.5h0M1074.3 1139.4h0M1076.1 1094.4h0M1077.9 1087.7h0M1079.7 1163h0M1081.5 1110.9h0M1083.4 1152.5h0M1085.2 1221h0M1087 1234.8h0M1088.8 1256.6h0M1090.6 1169.1h0M1092.5 1090.1h0M1094.3 1186.9h0M1096.1 1174.5h0M1097.9 1211.3h0M1099.7 1160.1h0M1101.5 1207.1h0M1103.4 1203.7h0M1105.2 1195.5h0M1107 1180.7h0M1108.8 1167.4h0M1110.6 1151.7h0M1112.5 1145.2h0M1114.3 1187.8h0M1116.1 1119.1h0M1117.9 1216h0M1119.7 1152.7h0M1121.6 1187.5h0M1123.4 1142.9h0M1125.2 1119.7h0M1127 1225.4h0M1128.8 1151.1h0M1130.6 1077.5h0M1132.5 1087.7h0M1134.3 1110h0M1136.1 1234.4h0M1137.9 1188.2h0M1139.7 1208.1h0M1141.6 1111.5h0M1143.4 1155.6h0M1145.2 1182.7h0M1147 1235h0M1148.8 1138.5h0M1150.7 1174.9h0M1152.5 1169.5h0M1154.3 1096.2h0M1156.1 1129.6h0M1157.9 1126.1h0M1159.7 1042.5h0M1161.6 1129.2h0M1163.4 1161.4h0M1165.2 1119.9h0M1167 1065.1h0M1168.8 1191.7h0M1170.7 1167.6h0M1172.5 1195.9h0M1174.3 1219.2h0M1176.1 1138.8h0M1177.9 1181.2h0M1179.8 1134.9h0M1181.6 1127.9h0M1183.4 1120.9h0M1185.2 1122.4h0M1187 1176.4h0M1188.8 1140.3h0M1192.5 1099.5h0M1194.3 1129.3h0M1196.1 1065h0M1197.9 1069.7h0M1199.8 1093.6h0M1201.6 1075.4h0M1205.2 1075.9h0M1207 1206.8h0M1208.9 1210.3h0M1210.7 1174.1h0M1212.5 1130.1h0M1214.3 1221.3h0M1216.1 1176h0M1217.9 1134.8h0M1219.8 1148.7h0M1223.4 1214.5h0M1225.2 1158.9h0M1227 1243.9h0M1228.9 1122.5h0M1230.7 1177h0M1232.5 1089.5h0M1234.3 1223.2h0M1236.1 1152.9h0M1238 1149h0M1239.8 1210.6h0M1241.6 1242.4h0M1243.4 1122.1h0M1245.2 1132.1h0M1247 1083.3h0M1248.9 1149h0M1250.7 1158.1h0M1252.5 1148.8h0M1254.3 1126.7h0M1564.2 1070.7h0M1567.8 1124h0M1569.7 1188.2h0M1571.5 1039.8h0M1573.3 1082.4h0M1575.1 1079.4h0M1576.9 1136h0M1578.8 1074.3h0M1580.6 1097.2h0M1582.4 1053.8h0M1584.2 1139.5h0M1586 1133.9h0M1587.8 1118h0M1589.7 1148h0M1591.5 1120.5h0M1593.3 1042.5h0M1595.1 1141.7h0M1596.9 1160.3h0M1598.8 1140.2h0M1600.6 1202.4h0M1602.4 1229.8h0M1604.2 1106.5h0M1606 1089.1h0M1607.9 1219.1h0M1609.7 1243.5h0M1611.5 1137.8h0M1613.3 1080.1h0M1615.1 1092.2h0M1616.9 1106.8h0M1618.8 1063.1h0M1620.6 1127h0M1622.4 1077.8h0M1624.2 1068.2h0M1626 1178.4h0M1627.9 1121.5h0M1629.7 1143.5h0M1631.5 1196.3h0M1633.3 1218.7h0M1635.1 1161.4h0M1637 1166h0M1638.8 1121.8h0M1640.6 1246.2h0M1642.4 1230.1h0M1644.2 1130.4h0M1646 1161.8h0M1647.9 1210.2h0M1649.7 1210.7h0M1651.5 1261.4h0M1653.3 1255.6h0M1655.1 1171.7h0M1657 1162h0M1658.8 1103.2h0M1660.6 1158.4h0M1662.4 1174h0M1664.2 1259.4h0M1666.1 1211.3h0M1667.9 1090.8h0M1669.7 1113.8h0M1671.5 1156.9h0M1673.3 1109.4h0M1675.1 1111.1h0M1701.5 1156.8h0M1703.3 1210.3h0M1705.1 1197.6h0M1707 1153.4h0M1708.8 1246.2h0M1710.6 1192.7h0M1712.4 1176h0M1714.2 1123.7h0M1716.1 1137.4h0M1717.9 1232.3h0M1719.7 1128.7h0M1721.5 1181h0M1723.3 1251.1h0M1725.1 1200.2h0M1727 1227.3h0M1728.8 1146h0M1732.4 1296.4h0M1734.2 1258.9h0M1736.1 1126.8h0M1737.9 1133.8h0M1739.7 1257.3h0M1741.5 1323.2h0M1743.3 1273.8h0M1747 1211.8h0M1748.8 1204.6h0M1750.6 1216.2h0M1752.4 1246.3h0M1754.2 1153.7h0M1756.1 1258.5h0M1757.9 1302.1h0M1759.7 1195.1h0M1761.5 1161.9h0M1763.3 1231h0M1765.2 1197.2h0M1767 1133h0M1768.8 1233.9h0M1770.6 1244h0M1772.4 1211.4h0M1774.3 1328.1h0M1776.1 1275.1h0M1777.9 1208h0M1779.7 1235.6h0M1781.5 1188.5h0M1783.3 1187.9h0M1785.2 1248.7h0M1787 1217.2h0M1788.8 1211.1h0M1790.6 1315.4h0M1792.4 1308.2h0M1794.3 1303.4h0M1796.1 1287.5h0M1797.9 1280.7h0M1799.7 1326.1h0M1801.5 1268.3h0M1803.4 1344.2h0M1805.2 1224.7h0M1807 1224.7h0M1808.8 1165.9h0M1810.6 1197.7h0M1812.4 1260.4h0M1816.1 1225.2h0M1817.9 1232.8h0M1819.7 1216.9h0M1821.5 1194.3h0M1823.4 1168.2h0M1825.2 1227.6h0M1827 1153h0M691 1558.9h0M623.6 1401h0M692.4 1380.2h0M628.9 1049.9h0M880.1 990.2h0M954.5 1014.1h0M499.8 1070.2h0M543.4 1104.6h0M352.1 1385.2h0M354.3 1394h0M492.3 1366.3h0M599.7 1384.3h0M1784.2 1347.7h0M1735 1326.3h0M1782.3 1320h0M1169.3 946.7h0M1222 1327.7h0M1618.9 1017h0M1590 1025h0M1573 1039h0M1726.5 1043h0M1215 1017h0M1184 1042h0M803 1043h0M781 1063h0M800 1068h0M660 1361h0M654 1354h0M719 1356h0M740 1345h0M760 1347h0M774 1339h0M1051 1299h0M1053 1294h0M1085 1296h0"/>
<polyline class="c" points="234,1180.6 238,1180.9 242,1181.5 246,1182.4 250,1183.6 254,1185 258,1186.6 262,1188.4 266,1190.5 270,1192.8 274,1195.2 278,1197.8 282,1200.6 286,1203.5 290,1206.6 294,1209.7 298,1213 302,1216.3 306,1219.7 310,1223.1 314,1226.5 318,1229.9 322,1233.3 326,1236.7 330,1240 334,1243.2 338,1246.4 342,1249.4 346,1252.4 350,1255.2 354,1257.8 358,1260.3 362,1262.7 366,1264.8 370,1266.8 374,1268.6 378,1270.1 382,1271.5 386,1272.7 390,1273.6 394,1274.4 398,1274.9 402,1275.2 406,1275.3 410,1275.2 414,1274.9 418,1274.4 422,1273.7 426,1272.8 430,1271.8 434,1270.6 438,1269.2 442,1267.7 446,1266.1 450,1264.4 454,1262.6 458,1260.7 462,1258.7 466,1256.7 470,1254.6 474,1252.5 478,1250.4 482,1248.3 486,1246.3 490,1244.3 494,1242.3 498,1240.4 502,1238.6 506,1236.9 510,1235.2 514,1233.7 518,1232.4 522,1231.1 526,1230.1 530,1229.1 534,1228.4 538,1227.8 542,1227.3 546,1227.1 550,1227 554,1227.1 558,1227.4 562,1227.8 566,1228.5 570,1229.3 574,1230.2 578,1231.3 582,1232.6 586,1234 590,1235.6 594,1237.2 598,1239 602,1240.8 606,1242.8 610,1244.8 614,1246.9 618,1249 622,1251.1 626,1253.2 630,1255.3 634,1257.4 638,1259.5 642,1261.5 646,1263.4 650,1265.3 654,1267 658,1268.6 662,1270.1 666,1271.4 670,1272.6 674,1273.6 678,1274.4 682,1275 686,1275.4 690,1275.5 694,1275.5 698,1275.2 702,1274.7 706,1273.9 710,1272.9 714,1271.7 718,1270.2 722,1268.4 726,1266.5 730,1264.2 734,1261.8 738,1259.1 742,1256.2 746,1253.1 750,1249.8 754,1246.3 758,1242.6 762,1238.7 766,1234.8 770,1230.6 774,1226.4 778,1222 782,1217.6 786,1213.1 790,1208.5 794,1203.9 798,1199.4 802,1194.8 806,1190.2 810,1185.7 814,1181.2 818,1176.9 822,1172.6 826,1168.5 830,1164.5 834,1160.6 838,1156.9 842,1153.4 846,1150.1 850,1147 854,1144.2 858,1141.5 862,1139.1 866,1137 870,1135.1 874,1133.5 878,1132.2 882,1131.1 886,1130.4 890,1129.9 894,1129.7 898,1129.7 902,1130 906,1130.6 910,1131.5 914,1132.6 918,1134 922,1135.6 926,1137.4 930,1139.5 934,1141.7 938,1144.2 942,1146.8 946,1149.6 950,1152.5 954,1155.5 958,1158.7 962,1161.9 966,1165.2 970,1168.6 974,1172 978,1175.4 982,1178.8 986,1182.2 990,1185.6 994,1188.9 998,1192.1 1002,1195.3 1006,1198.4 1010,1201.3 1014,1204.1 1018,1206.8 1022,1209.3 1026,1211.6 1030,1213.8 1034,1215.8 1038,1217.6 1042,1219.2 1046,1220.6 1050,1221.7 1054,1222.7 1058,1223.5 1062,1224 1066,1224.3 1070,1224.4 1074,1224.4 1078,1224.1 1082,1223.6 1086,1222.9 1090,1222 1094,1221 1098,1219.8 1102,1218.5 1106,1217 1110,1215.4 1114,1213.7 1118,1211.9 1122,1210 1126,1208 1130,1206 1134,1203.9 1138,1201.8 1142,1199.7 1146,1197.7 1150,1195.6 1154,1193.6 1158,1191.6 1162,1189.7 1166,1187.9 1170,1186.1 1174,1184.5 1178,1183 1182,1181.6 1186,1180.4 1190,1179.3 1194,1178.4 1198,1177.6 1202,1177 1206,1176.5 1210,1176.3 1214,1176.2 1218,1176.3 1222,1176.5 1226,1177 1230,1177.6 1234,1178.4 1238,1179.3 1242,1180.4 1246,1181.7 1250,1183.1 1254,1184.6 1258,1186.2 1262,1188 1266,1189.9 1270,1191.8 1274,1193.8 1278,1195.9 1282,1198 1286,1200.1 1290,1202.2 1294,1204.3 1298,1206.4 1302,1208.5 1306,1210.5 1310,1212.5 1314,1214.3 1318,1216 1322,1217.7 1326,1219.2 1330,1220.5 1334,1221.7 1338,1222.7 1342,1223.5 1346,1224.1 1350,1224.5 1354,1224.7 1358,1224.7 1362,1224.4 1366,1223.9 1370,1223.2 1374,1222.2 1378,1220.9 1382,1219.5 1386,1217.7 1390,1215.8 1394,1213.6 1398,1211.1 1402,1208.5 1406,1205.6 1410,1202.5 1414,1199.2 1418,1195.7 1422,1192 1426,1188.2 1430,1184.2 1434,1180.1 1438,1175.9 1442,1171.5 1446,1167.1 1450,1162.6 1454,1158 1458,1153.5 1462,1148.9 1466,1144.3 1470,1139.7 1474,1135.2 1478,1130.7 1482,1126.4 1486,1122.1 1490,1117.9 1494,1113.9 1498,1110 1502,1106.3 1506,1102.8 1510,1099.5 1514,1096.4 1518,1093.5 1522,1090.9 1526,1088.5 1530,1086.3 1534,1084.4 1538,1082.8 1542,1081.4 1546,1080.4 1550,1079.6 1554,1079.1 1558,1078.8 1562,1078.9 1566,1079.2 1570,1079.8 1574,1080.6 1578,1081.7 1582,1083 1586,1084.6 1590,1086.5 1594,1088.5 1598,1090.7 1602,1093.1 1606,1095.7 1610,1098.5 1614,1101.4 1618,1104.4 1622,1107.6 1626,1110.8 1630,1114.1 1634,1117.5 1638,1120.9 1642,1124.3 1646,1127.7 1650,1131.1 1654,1134.5 1658,1137.8 1662,1141.1 1666,1144.2 1670,1147.3 1674,1150.2 1678,1153.1 1682,1155.7 1686,1158.3 1690,1160.6 1694,1162.8 1698,1164.8 1702,1166.6 1706,1168.2 1710,1169.6 1714,1170.8 1718,1171.8 1722,1172.6 1726,1173.1 1730,1173.5 1734,1173.6 1738,1173.5 1742,1173.3 1746,1172.8 1750,1172.1 1754,1171.3 1758,1170.3 1762,1169.1 1766,1167.7 1770,1166.3 1774,1164.7 1778,1163 1782,1161.2 1786,1159.3 1790,1157.3 1794,1155.3 1798,1153.2 1802,1151.1 1806,1149.1 1810,1147 1814,1144.9 1818,1142.9 1822,1140.9 1826,1139 1828.6,1137.8"/>
<path class="t" d="M234 933.8v-18.9M234 1571.7v18.9M400.14 933.8v-9.9M400.14 1571.7v9.9M566.27 933.8v-9.9M566.27 1571.7v9.9M732.41 933.8v-9.9M732.41 1571.7v9.9M898.55 933.8v-18.9M898.55 1571.7v18.9M1064.69 933.8v-9.9M1064.69 1571.7v9.9M1230.82 933.8v-9.9M1230.82 1571.7v9.9M1396.96 933.8v-9.9M1396.96 1571.7v9.9M1563.1 933.8v-18.9M1563.1 1571.7v18.9M1729.24 933.8v-9.9M1729.24 1571.7v9.9M202.4 944.2h-19.5M1860 944.2h19.5M202.4 1074.7h-19.5M1860 1074.7h19.5M202.4 1205.2h-19.5M1860 1205.2h19.5M202.4 1335.7h-19.5M1860 1335.7h19.5M202.4 1466.2h-19.5M1860 1466.2h19.5"/>
<path fill="#000" fill-rule="evenodd" d="M199.15 930.85H1863.05V1574.6H199.15ZM205.85 936.75H1856.95V1568.8H205.85Z"/>
<text class="an" transform="translate(167.2 959.9) scale(1 1.08)" text-anchor="end" textLength="23.53">6</text>
<text class="an" transform="translate(167.2 1090.4) scale(1 1.08)" text-anchor="end" textLength="23.53">3</text>
<text class="an" transform="translate(167.2 1220.9) scale(1 1.08)" text-anchor="end" textLength="23.53">0</text>
<text class="an" transform="translate(167.2 1351.4) scale(1 1.08)" text-anchor="end" textLength="48.23">−3</text>
<text class="an" transform="translate(167.2 1481.9) scale(1 1.08)" text-anchor="end" textLength="48.23">−6</text>
<text class="an" transform="translate(234 1638.6) scale(1 1.08)" text-anchor="middle" textLength="94.11">2023</text>
<text class="an" transform="translate(898.55 1638.6) scale(1 1.08)" text-anchor="middle" textLength="94.11">2024</text>
<text class="an" transform="translate(1563.1 1638.6) scale(1 1.08)" text-anchor="middle" textLength="94.11">2025</text>
<text class="lb" transform="translate(89.8 1252.75) rotate(-90) scale(1 1.06)" text-anchor="middle" textLength="213.83">North (mm)</text>
<text class="rt" transform="translate(1794 1557.8) scale(1 1.02)" text-anchor="end" textLength="346.69">1.187+/- 0.646 mm/yr</text>
</g>
<g id="p3">
<path class="d" d="M234 2147.7h0M235.8 2078.5h0M237.6 2085.6h0M239.5 2129.6h0M241.3 2164h0M243.1 2225h0M244.9 2250.8h0M246.7 2225.7h0M248.6 2221h0M250.4 2100.7h0M252.2 2041.5h0M254 2096.9h0M255.8 2079.8h0M257.6 2091.4h0M259.5 2125.5h0M261.3 2048.6h0M263.1 2041.8h0M266.7 2152.4h0M268.6 2080.8h0M270.4 2180.2h0M274 2056.1h0M275.8 2139.6h0M277.7 2301.1h0M281.3 2258.1h0M283.1 2283.2h0M284.9 2295.5h0M286.7 2112.9h0M288.6 2298h0M290.4 2203.5h0M292.2 2141.1h0M294 2132.6h0M295.8 2217.4h0M297.7 2184h0M299.5 2156.1h0M301.3 2275.4h0M303.1 2116.1h0M304.9 2062.1h0M306.8 2222.3h0M308.6 2239.3h0M310.4 2270.4h0M312.2 2084h0M314 2256.4h0M315.8 2229.7h0M317.7 2313.3h0M319.5 2085.8h0M321.3 2172.4h0M323.1 2132.4h0M324.9 2027.9h0M326.8 2069.1h0M328.6 2260.6h0M330.4 2147.1h0M332.2 2098.5h0M334 2238.4h0M335.9 2270.3h0M337.7 2277.7h0M339.5 2118.8h0M341.3 2154.3h0M343.1 2262.5h0M344.9 2130.6h0M346.8 2096h0M348.6 2226.4h0M350.4 2289.6h0M352.2 2092.3h0M354 2021.7h0M355.9 2031.9h0M357.7 2063.6h0M359.5 2138.2h0M361.3 2224.9h0M363.1 2176.3h0M365 2123.1h0M366.8 2197.3h0M368.6 2116.8h0M370.4 2179.6h0M372.2 2145.1h0M374 2347.1h0M375.9 2312.1h0M377.7 2154.3h0M379.5 2118.1h0M381.3 2149h0M383.1 2082.2h0M385 2116h0M386.8 2119.3h0M388.6 2256.1h0M390.4 2167.1h0M392.2 2117.9h0M394.1 2077.6h0M395.9 2080h0M397.7 2154.1h0M399.5 2156.9h0M401.3 2263.2h0M403.1 2145.7h0M405 2262.6h0M406.8 2219.9h0M408.6 2182.8h0M410.4 2048.6h0M412.2 2047.4h0M414.1 2188.7h0M415.9 2253.3h0M417.7 2185.9h0M419.5 2206.3h0M421.3 2106.1h0M423.2 2080.9h0M425 2049.1h0M426.8 2183h0M428.6 2157.9h0M430.4 2096.2h0M432.2 2074.5h0M434.1 2151.1h0M435.9 2145.5h0M437.7 2042.3h0M439.5 2225.7h0M441.3 2156.9h0M443.2 2116.2h0M445 2219.6h0M446.8 2210.8h0M448.6 2122.4h0M450.4 2159.8h0M452.3 2021.5h0M454.1 2028.4h0M455.9 1965.8h0M457.7 2176.4h0M459.5 1984.9h0M461.3 2141.5h0M463.2 2042.3h0M465 2019.6h0M466.8 2075.6h0M468.6 2136.2h0M470.4 2185.3h0M472.3 2262.7h0M474.1 2198.4h0M475.9 2229.5h0M477.7 2105.9h0M479.5 2205.5h0M481.4 2175.2h0M483.2 2101.3h0M485 2124.4h0M486.8 2132.6h0M488.6 2152.1h0M490.4 2176.5h0M492.3 2089.9h0M494.1 2051.2h0M495.9 2186.8h0M497.7 2006.3h0M499.5 2051.1h0M501.4 2254.5h0M505 2049.2h0M506.8 2194.4h0M508.6 2033.4h0M510.5 2301.6h0M512.3 2014.9h0M514.1 2242.2h0M515.9 2285.6h0M517.7 2264.2h0M519.5 2167.7h0M521.4 2196.8h0M523.2 2086.4h0M525 2215.5h0M526.8 2068.8h0M528.6 2104.6h0M530.5 2217.5h0M532.3 2062.3h0M534.1 2082.7h0M535.9 2133h0M537.7 2030.4h0M539.6 2196.3h0M541.4 2161.9h0M543.2 2024.4h0M545 2088.4h0M546.8 2049.9h0M548.6 2047.7h0M550.5 2103.4h0M552.3 2049.3h0M554.1 2175.9h0M555.9 2056.3h0M557.7 2172.7h0M559.6 2115.2h0M561.4 2180.6h0M563.2 2061.5h0M565 2038.9h0M566.8 1980.9h0M568.7 2124.9h0M570.5 2190h0M572.3 2251.2h0M574.1 2237.6h0M575.9 2155h0M577.7 2072.2h0M579.6 2122.9h0M581.4 2084.6h0M583.2 2210.4h0M585 2188.3h0M586.8 2014h0M588.7 1992.5h0M590.5 2184h0M592.3 2128.9h0M594.1 2059.2h0M595.9 2172.6h0M597.8 2045.9h0M599.6 2029.4h0M601.4 2004.9h0M603.2 1905.1h0M605 2102.4h0M606.8 1950.1h0M608.7 1975.4h0M610.5 1963.4h0M612.3 2100.7h0M614.1 2058h0M615.9 2052.1h0M617.8 1917.8h0M619.6 2004.5h0M621.4 1924h0M623.2 2047.9h0M625 2090.9h0M626.9 2056.6h0M630.5 2133.6h0M632.3 2117.1h0M634.1 2077.4h0M635.9 2037.2h0M637.8 2134.4h0M639.6 2158.8h0M641.4 1966.9h0M643.2 2132.8h0M645 2121.1h0M646.9 2147.3h0M648.7 2113.7h0M650.5 1954.9h0M652.3 1939.7h0M654.1 2177.3h0M656 2114.3h0M657.8 1958.4h0M659.6 2079.9h0M661.4 2040.4h0M663.2 1941.2h0M665 1932.1h0M666.9 1934.2h0M668.7 2071.4h0M670.5 2081.3h0M672.3 2066.5h0M674.1 2116.9h0M676 2157.4h0M677.8 1963.7h0M679.6 2032h0M681.4 2010.3h0M685.1 2033.8h0M686.9 2079.3h0M688.7 2075.2h0M690.5 1987.3h0M692.3 2029.2h0M694.1 2222.1h0M696 2022.8h0M697.8 1951.5h0M699.6 2072.6h0M701.4 2136.3h0M703.2 2134.1h0M705.1 1997.5h0M706.9 2150.8h0M708.7 2018.6h0M710.5 1970.9h0M712.3 1993.4h0M714.2 2035.1h0M716 2124h0M717.8 2127.7h0M719.6 2061.9h0M721.4 2127.5h0M723.2 2074.1h0M725.1 2125.6h0M726.9 1937.9h0M728.7 1912.5h0M730.5 2077.3h0M732.3 1940.7h0M734.2 1987.6h0M736 2019.8h0M737.8 1988.6h0M739.6 1984.3h0M741.4 2127.4h0M743.3 1901.7h0M745.1 2073.1h0M746.9 2167.8h0M748.7 2082.2h0M750.5 2052.5h0M752.3 2106.1h0M754.2 2173.3h0M756 1977.7h0M757.8 2033.6h0M759.6 2024.4h0M761.4 2088h0M763.3 2063.1h0M765.1 2103.2h0M766.9 2005.9h0M768.7 2033.2h0M770.5 1971.6h0M772.4 1950.2h0M774.2 2002.7h0M776 2019h0M777.8 1931.8h0M779.6 2168.5h0M781.4 2074.2h0M783.3 1945.8h0M785.1 2145.2h0M786.9 2005h0M788.7 2102.8h0M790.5 2073.6h0M792.4 2096.5h0M794.2 2095.8h0M796 2021.1h0M797.8 2067.3h0M799.6 2212.7h0M801.5 1944.3h0M803.3 2045.2h0M805.1 2107.7h0M806.9 1986.1h0M808.7 1957.9h0M810.5 2210.2h0M812.4 2076.4h0M814.2 2223.1h0M816 2168.7h0M817.8 2112.5h0M819.6 2137.4h0M821.5 2154.5h0M823.3 2197h0M825.1 2146.4h0M826.9 2106.5h0M828.7 2101.6h0M830.6 2188.4h0M832.4 2167h0M834.2 1994.8h0M836 1998.8h0M837.8 2093.6h0M839.6 2024.5h0M841.5 2031.3h0M843.3 1995.6h0M845.1 2044.7h0M846.9 2126.7h0M848.7 2189.2h0M850.6 2126.8h0M852.4 2254h0M854.2 2151.1h0M856 2263.3h0M859.7 2203.6h0M861.5 2099.2h0M863.3 1987.3h0M865.1 2057h0M866.9 2119.8h0M868.7 2232.6h0M870.6 2032.3h0M872.4 2217.9h0M874.2 2118.1h0M876 2165h0M877.8 1992.2h0M879.7 2081.7h0M881.5 2081h0M883.3 2154.6h0M885.1 2129.9h0M886.9 2049.6h0M888.8 2168.7h0M890.6 2171.5h0M892.4 2162.3h0M894.2 2183.8h0M896 2195.3h0M897.8 2133.3h0M899.7 2020.4h0M901.5 2004.6h0M903.3 2186h0M905.1 2181.7h0M906.9 2130.3h0M908.8 2072.9h0M910.6 2097.3h0M912.4 2101.8h0M914.2 2064h0M916 2026.2h0M917.9 2235.9h0M919.7 2166.1h0M921.5 2077.3h0M925.1 2066.6h0M926.9 2195.1h0M928.8 2220.9h0M930.6 2154.1h0M932.4 2167.8h0M934.2 2147.4h0M936 2099.1h0M937.9 2252.1h0M939.7 2229.7h0M941.5 2299.1h0M943.3 2179.3h0M945.1 2176.6h0M947 2250.7h0M948.8 2182.1h0M950.6 2088.2h0M952.4 2089.3h0M954.2 2163.1h0M956 2204.1h0M957.9 2165.4h0M959.7 2258.9h0M961.5 2270.6h0M963.3 2210.6h0M968.8 2200h0M970.6 2258.6h0M972.4 2176.4h0M974.2 2203.6h0M977.9 1992.3h0M979.7 1994.9h0M981.5 2188.1h0M983.3 2192.6h0M985.1 2287.1h0M987 2180h0M990.6 2282.1h0M992.4 2264.7h0M994.2 2094.5h0M996.1 2102.4h0M997.9 2143h0M999.7 2042.8h0M1001.5 2173.9h0M1003.3 2251.3h0M1005.2 2114.5h0M1007 2284.4h0M1008.8 2139h0M1012.4 2097.4h0M1014.2 2055.7h0M1016.1 2153.6h0M1017.9 2134.6h0M1019.7 2250.5h0M1021.5 2212.8h0M1023.3 2193h0M1025.2 2116.6h0M1027 2014.8h0M1028.8 2083.8h0M1030.6 2039h0M1032.4 2199.3h0M1034.3 2135.9h0M1036.1 2261.8h0M1037.9 2227.3h0M1039.7 2221.9h0M1041.5 2160.7h0M1043.3 2143.5h0M1045.2 2185.9h0M1047 2216.4h0M1048.8 2049.4h0M1050.6 2161.7h0M1052.4 2298.1h0M1054.3 2176h0M1056.1 2104.6h0M1057.9 2049.4h0M1059.7 1988h0M1061.5 2218.6h0M1063.4 2160.9h0M1065.2 2181.2h0M1067 2292.9h0M1068.8 2308.6h0M1070.6 2133.3h0M1072.4 2262.3h0M1074.3 2258.3h0M1076.1 2244.4h0M1077.9 2238.4h0M1079.7 2185.6h0M1081.5 2300h0M1083.4 2256.7h0M1085.2 2214.3h0M1087 2264h0M1088.8 2244.7h0M1090.6 2201.9h0M1092.5 2176.5h0M1094.3 2265h0M1096.1 2211.1h0M1097.9 2135.6h0M1099.7 2034.8h0M1101.5 2055.3h0M1103.4 1997.8h0M1105.2 2097.5h0M1107 2142.3h0M1108.8 1973.9h0M1110.6 2091.9h0M1112.5 2202.1h0M1114.3 2178.3h0M1116.1 2063.1h0M1117.9 2263.8h0M1119.7 2111.2h0M1121.6 2047.7h0M1123.4 2057.8h0M1125.2 2159.3h0M1127 2285.3h0M1128.8 2313.1h0M1130.6 2241.9h0M1132.5 2073.6h0M1134.3 2092.8h0M1136.1 2074.7h0M1137.9 2130.8h0M1139.7 2024.7h0M1141.6 2146.4h0M1143.4 2241.4h0M1145.2 2176.8h0M1147 2236.9h0M1148.8 2103.7h0M1150.7 2050.6h0M1152.5 2089.9h0M1154.3 2276.6h0M1156.1 2294.2h0M1157.9 2167h0M1159.7 2296.6h0M1161.6 2171.9h0M1163.4 2294.2h0M1165.2 2237.1h0M1167 2131.3h0M1168.8 2226.4h0M1170.7 2089.4h0M1172.5 2053.7h0M1174.3 2013.2h0M1176.1 2133.8h0M1177.9 2126.9h0M1179.8 2118.8h0M1181.6 2077.1h0M1183.4 2225.4h0M1185.2 2098.8h0M1187 2043h0M1188.8 2206.6h0M1190.7 2235h0M1192.5 2178.5h0M1194.3 2004.5h0M1196.1 2036.9h0M1197.9 2149.5h0M1199.8 2113.9h0M1201.6 2213.8h0M1203.4 2011h0M1205.2 2135.9h0M1207 2042.2h0M1208.9 2176.4h0M1210.7 2093.2h0M1212.5 2162.2h0M1216.1 1975.3h0M1219.8 2009.8h0M1221.6 1991.4h0M1223.4 2127.7h0M1225.2 2144h0M1227 2089.1h0M1228.9 1992h0M1230.7 2027.4h0M1232.5 1997.3h0M1234.3 2100.4h0M1236.1 2062.4h0M1238 2057.8h0M1239.8 2005.7h0M1241.6 1949.3h0M1245.2 1961.2h0M1247 2015.5h0M1248.9 2014.7h0M1250.7 1975.1h0M1252.5 1983.8h0M1254.3 2060.6h0M1564.2 2084.6h0M1566 2058.1h0M1567.8 2103.6h0M1569.7 2077.9h0M1571.5 2096.1h0M1573.3 2185.6h0M1575.1 2271.8h0M1576.9 2053h0M1578.8 2130h0M1580.6 2157.4h0M1582.4 2153.9h0M1584.2 2146.6h0M1586 2136.2h0M1587.8 2249.8h0M1589.7 2149.8h0M1591.5 2163h0M1593.3 2181.8h0M1595.1 2193.9h0M1596.9 2175.6h0M1598.8 2267.3h0M1600.6 2209.9h0M1604.2 2210.7h0M1606 2139.6h0M1607.9 2146.4h0M1611.5 2223.6h0M1613.3 2185.7h0M1615.1 2167.7h0M1616.9 2248h0M1618.8 2284.9h0M1620.6 2171.9h0M1622.4 2330.9h0M1624.2 2274.5h0M1627.9 2320.3h0M1629.7 2275.1h0M1631.5 2218.9h0M1633.3 2353.7h0M1635.1 2205.1h0M1637 2227.8h0M1638.8 2292.5h0M1640.6 2178.4h0M1642.4 2217.3h0M1644.2 2259h0M1646 2341.6h0M1647.9 2207h0M1649.7 2224.1h0M1651.5 2282.4h0M1653.3 2252.3h0M1655.1 2163.3h0M1657 2249.9h0M1658.8 2248h0M1660.6 2270.1h0M1662.4 2311.5h0M1664.2 2310.2h0M1666.1 2280h0M1667.9 2269.4h0M1669.7 2179.1h0M1671.5 2218.5h0M1673.3 2250.4h0M1675.1 2220.4h0M1701.5 2168.5h0M1703.3 2115.3h0M1705.1 2222.3h0M1707 2237.4h0M1708.8 2151h0M1710.6 2169.3h0M1712.4 2135.2h0M1714.2 2201.7h0M1716.1 2178.9h0M1717.9 2155.2h0M1719.7 2132.3h0M1721.5 2148.1h0M1723.3 2095.3h0M1725.1 2164h0M1727 2108.6h0M1728.8 2157.5h0M1732.4 2186.1h0M1734.2 2149.6h0M1736.1 2192.1h0M1737.9 2108.8h0M1739.7 2171.9h0M1741.5 2142.3h0M1743.3 2163.5h0M1745.2 2161.2h0M1747 2209.8h0M1748.8 2069.7h0M1750.6 2153.5h0M1752.4 2074.9h0M1754.2 2214.9h0M1756.1 2063.2h0M1757.9 2074h0M1759.7 2053.2h0M1761.5 2234.8h0M1763.3 2091.7h0M1765.2 2157.4h0M1767 2121.5h0M1768.8 2063.8h0M1770.6 2117.2h0M1772.4 2205.9h0M1774.3 2165h0M1776.1 2232.2h0M1777.9 2158.4h0M1779.7 2169.9h0M1781.5 2140.1h0M1783.3 2192.4h0M1785.2 2274.1h0M1787 2221.6h0M1788.8 2188.4h0M1790.6 2128.7h0M1792.4 2110.7h0M1794.3 2243.9h0M1796.1 2106.2h0M1797.9 2091.7h0M1799.7 2139h0M1801.5 2126.7h0M1803.4 2256.7h0M1805.2 2068.4h0M1808.8 2205.6h0M1810.6 2102.8h0M1812.4 2112h0M1814.3 2181.7h0M1816.1 2248.2h0M1817.9 2133.3h0M1819.7 2092.6h0M1821.5 2201.4h0M1823.4 2238.3h0M1827 2095.4h0M1828.8 2210.6h0M265 1911.6h0M263.3 1993.5h0M261.6 2004.6h0M310.5 2332.6h0M306.9 2320.1h0M390.4 2340.7h0M239.7 2293.8h0M344.9 2294h0M607.2 1826.1h0M596.4 1846.9h0M599.7 1873.3h0M594.2 1923.2h0M598.3 1926.8h0M794.6 1762.3h0M792.4 1829.7h0M789 1838h0M764 1860.8h0M765.5 1862.2h0M840.4 1859.4h0M842 1862.2h0M771 1896.9h0M838.2 1908h0M779.9 1932.4h0M714.1 1931h0M628.9 2282.7h0M814.6 2314.6h0M868.2 2367.3h0M870 2367.5h0M985.3 2353.4h0M988.1 2331.5h0M990 2332h0M956.4 2334h0M954.8 2318.2h0M958.4 2297.9h0M959.2 2293.8h0M1058.3 1940.7h0M1034.4 2339h0M1045.8 2333.2h0M1080.2 2343.7h0M1145.5 2329h0M1153.2 2336.8h0M1160.2 2337h0M1236.5 2273.5h0M1231 1952.4h0M1229.6 1957.4h0M1237.9 1957.9h0M1245.4 1946.3h0M1255.1 1951h0M1573.2 1972.6h0M1611.3 1979h0M1575.2 2040.6h0M1578.8 2055h0M1567.7 2074.5h0M1627.7 2375.1h0M1673.2 2369.3h0M1660.7 2322h0M1753.1 2058.7h0"/>
<polyline class="c" points="234,2103.5 238,2106.6 242,2109.6 246,2112.6 250,2115.5 254,2118.4 258,2121.2 262,2123.9 266,2126.5 270,2129 274,2131.4 278,2133.7 282,2135.9 286,2138 290,2139.9 294,2141.8 298,2143.5 302,2145 306,2146.4 310,2147.7 314,2148.9 318,2149.8 322,2150.7 326,2151.4 330,2151.9 334,2152.4 338,2152.6 342,2152.7 346,2152.7 350,2152.6 354,2152.3 358,2151.9 362,2151.3 366,2150.6 370,2149.8 374,2148.9 378,2147.9 382,2146.8 386,2145.5 390,2144.2 394,2142.8 398,2141.3 402,2139.8 406,2138.1 410,2136.4 414,2134.7 418,2132.9 422,2131 426,2129.2 430,2127.2 434,2125.3 438,2123.4 442,2121.4 446,2119.4 450,2117.5 454,2115.5 458,2113.6 462,2111.6 466,2109.7 470,2107.8 474,2106 478,2104.2 482,2102.4 486,2100.6 490,2098.9 494,2097.2 498,2095.6 502,2094 506,2092.5 510,2091 514,2089.6 518,2088.2 522,2086.9 526,2085.6 530,2084.3 534,2083.2 538,2082 542,2080.9 546,2079.8 550,2078.8 554,2077.8 558,2076.9 562,2076 566,2075.1 570,2074.3 574,2073.5 578,2072.7 582,2071.9 586,2071.1 590,2070.4 594,2069.7 598,2069 602,2068.3 606,2067.6 610,2066.9 614,2066.3 618,2065.6 622,2065 626,2064.3 630,2063.7 634,2063.1 638,2062.4 642,2061.8 646,2061.2 650,2060.6 654,2060 658,2059.4 662,2058.8 666,2058.2 670,2057.7 674,2057.2 678,2056.6 682,2056.2 686,2055.7 690,2055.3 694,2054.9 698,2054.5 702,2054.2 706,2054 710,2053.8 714,2053.6 718,2053.5 722,2053.5 726,2053.5 730,2053.6 734,2053.8 738,2054.1 742,2054.4 746,2054.8 750,2055.4 754,2056 758,2056.7 762,2057.5 766,2058.5 770,2059.5 774,2060.6 778,2061.8 782,2063.2 786,2064.7 790,2066.2 794,2067.9 798,2069.7 802,2071.6 806,2073.6 810,2075.7 814,2077.9 818,2080.2 822,2082.6 826,2085.1 830,2087.6 834,2090.3 838,2093 842,2095.8 846,2098.7 850,2101.7 854,2104.7 858,2107.7 862,2110.8 866,2113.9 870,2117.1 874,2120.2 878,2123.4 882,2126.6 886,2129.8 890,2133 894,2136.1 898,2139.3 902,2142.3 906,2145.4 910,2148.4 914,2151.3 918,2154.2 922,2157 926,2159.7 930,2162.3 934,2164.8 938,2167.2 942,2169.6 946,2171.8 950,2173.9 954,2175.8 958,2177.6 962,2179.3 966,2180.9 970,2182.3 974,2183.6 978,2184.8 982,2185.8 986,2186.6 990,2187.4 994,2187.9 998,2188.3 1002,2188.6 1006,2188.7 1010,2188.7 1014,2188.6 1018,2188.3 1022,2187.9 1026,2187.4 1030,2186.7 1034,2185.9 1038,2185 1042,2184 1046,2182.9 1050,2181.6 1054,2180.3 1058,2178.9 1062,2177.4 1066,2175.9 1070,2174.3 1074,2172.6 1078,2170.8 1082,2169 1086,2167.2 1090,2165.3 1094,2163.4 1098,2161.5 1102,2159.5 1106,2157.6 1110,2155.6 1114,2153.6 1118,2151.7 1122,2149.7 1126,2147.8 1130,2145.9 1134,2144 1138,2142.1 1142,2140.3 1146,2138.5 1150,2136.8 1154,2135 1158,2133.4 1162,2131.7 1166,2130.2 1170,2128.6 1174,2127.1 1178,2125.7 1182,2124.3 1186,2123 1190,2121.7 1194,2120.5 1198,2119.3 1202,2118.1 1206,2117 1210,2115.9 1214,2114.9 1218,2113.9 1222,2113 1226,2112.1 1230,2111.2 1234,2110.3 1238,2109.5 1242,2108.7 1246,2108 1250,2107.2 1254,2106.5 1258,2105.8 1262,2105 1266,2104.4 1270,2103.7 1274,2103 1278,2102.3 1282,2101.7 1286,2101 1290,2100.4 1294,2099.8 1298,2099.1 1302,2098.5 1306,2097.9 1310,2097.2 1314,2096.6 1318,2096 1322,2095.4 1326,2094.9 1330,2094.3 1334,2093.7 1338,2093.2 1342,2092.7 1346,2092.2 1350,2091.7 1354,2091.3 1358,2090.9 1362,2090.6 1366,2090.3 1370,2090 1374,2089.8 1378,2089.6 1382,2089.5 1386,2089.5 1390,2089.5 1394,2089.6 1398,2089.8 1402,2090.1 1406,2090.4 1410,2090.8 1414,2091.3 1418,2092 1422,2092.7 1426,2093.5 1430,2094.4 1434,2095.4 1438,2096.5 1442,2097.8 1446,2099.1 1450,2100.5 1454,2102.1 1458,2103.8 1462,2105.5 1466,2107.4 1470,2109.4 1474,2111.5 1478,2113.7 1482,2116 1486,2118.4 1490,2120.9 1494,2123.4 1498,2126.1 1502,2128.8 1506,2131.6 1510,2134.5 1514,2137.5 1518,2140.5 1522,2143.5 1526,2146.6 1530,2149.7 1534,2152.9 1538,2156 1542,2159.2 1546,2162.4 1550,2165.6 1554,2168.7 1558,2171.9 1562,2175 1566,2178.1 1570,2181.2 1574,2184.2 1578,2187.1 1582,2190 1586,2192.8 1590,2195.5 1594,2198.1 1598,2200.6 1602,2203.1 1606,2205.4 1610,2207.6 1614,2209.7 1618,2211.7 1622,2213.5 1626,2215.2 1630,2216.8 1634,2218.3 1638,2219.6 1642,2220.7 1646,2221.7 1650,2222.6 1654,2223.3 1658,2223.9 1662,2224.3 1666,2224.6 1670,2224.8 1674,2224.8 1678,2224.6 1682,2224.3 1686,2223.9 1690,2223.4 1694,2222.8 1698,2222 1702,2221.1 1706,2220.1 1710,2219 1714,2217.7 1718,2216.4 1722,2215 1726,2213.6 1730,2212 1734,2210.4 1738,2208.7 1742,2207 1746,2205.2 1750,2203.3 1754,2201.5 1758,2199.6 1762,2197.6 1766,2195.7 1770,2193.7 1774,2191.8 1778,2189.8 1782,2187.8 1786,2185.9 1790,2184 1794,2182 1798,2180.2 1802,2178.3 1806,2176.5 1810,2174.7 1814,2172.9 1818,2171.2 1822,2169.5 1826,2167.9 1828.6,2166.8"/>
<path class="t" d="M234 1750.1v-18.9M234 2387.9v18.9M400.14 1750.1v-9.9M400.14 2387.9v9.9M566.27 1750.1v-9.9M566.27 2387.9v9.9M732.41 1750.1v-9.9M732.41 2387.9v9.9M898.55 1750.1v-18.9M898.55 2387.9v18.9M1064.69 1750.1v-9.9M1064.69 2387.9v9.9M1230.82 1750.1v-9.9M1230.82 2387.9v9.9M1396.96 1750.1v-9.9M1396.96 2387.9v9.9M1563.1 1750.1v-18.9M1563.1 2387.9v18.9M1729.24 1750.1v-9.9M1729.24 2387.9v9.9M202.4 1764h-19.5M1860 1764h19.5M202.4 1889.1h-19.5M1860 1889.1h19.5M202.4 2014.2h-19.5M1860 2014.2h19.5M202.4 2139.3h-19.5M1860 2139.3h19.5M202.4 2264.4h-19.5M1860 2264.4h19.5"/>
<path fill="#000" fill-rule="evenodd" d="M199.15 1747.15H1863.05V2390.8H199.15ZM205.85 1753.05H1856.95V2385H205.85Z"/>
<text class="an" transform="translate(167.2 1779.7) scale(1 1.08)" text-anchor="end" textLength="47.06">27</text>
<text class="an" transform="translate(167.2 1904.8) scale(1 1.08)" text-anchor="end" textLength="47.06">18</text>
<text class="an" transform="translate(167.2 2029.9) scale(1 1.08)" text-anchor="end" textLength="23.53">9</text>
<text class="an" transform="translate(167.2 2155) scale(1 1.08)" text-anchor="end" textLength="23.53">0</text>
<text class="an" transform="translate(167.2 2280.1) scale(1 1.08)" text-anchor="end" textLength="48.23">−9</text>
<text class="an" transform="translate(234 2454.8) scale(1 1.08)" text-anchor="middle" textLength="94.11">2023</text>
<text class="an" transform="translate(898.55 2454.8) scale(1 1.08)" text-anchor="middle" textLength="94.11">2024</text>
<text class="an" transform="translate(1563.1 2454.8) scale(1 1.08)" text-anchor="middle" textLength="94.11">2025</text>
<text class="lb" transform="translate(89.8 2069) rotate(-90) scale(1 1.06)" text-anchor="middle" textLength="164.47">Up (mm)</text>
<text class="rt" transform="translate(1794 1789.9) scale(1 1.02)" text-anchor="end" textLength="358.52">-2.553+/- 2.241 mm/yr</text>
</g>
<text class="lb" transform="translate(1030.6 2513.1) scale(1 1.06)" text-anchor="middle" textLength="216.2">Time (year)</text>
<path fill="#000" fill-rule="evenodd" d="M199.4 2613.9H1862.9V2773.05H199.4ZM205.8 2620.2H1856.9V2766.75H205.8Z"/>
<text class="ft" transform="translate(1031.2 2666.1) scale(1 1.02)" text-anchor="middle" textLength="1210.16">24 Hour Positions Using Final Orbits (blue) and Rapid Orbits (magenta).</text>
<text class="ft" transform="translate(1031.7 2706.2) scale(1 1.02)" text-anchor="middle" textLength="797.77">Processed by the Nevada Geodetic Laboratory.</text>
<text class="ft" transform="translate(1031.2 2746.9) scale(1 1.02)" text-anchor="middle" textLength="847.12">Plotted on 2026-Jan-11. Last data on 2025-May-26.</text>
</svg></body></html>
